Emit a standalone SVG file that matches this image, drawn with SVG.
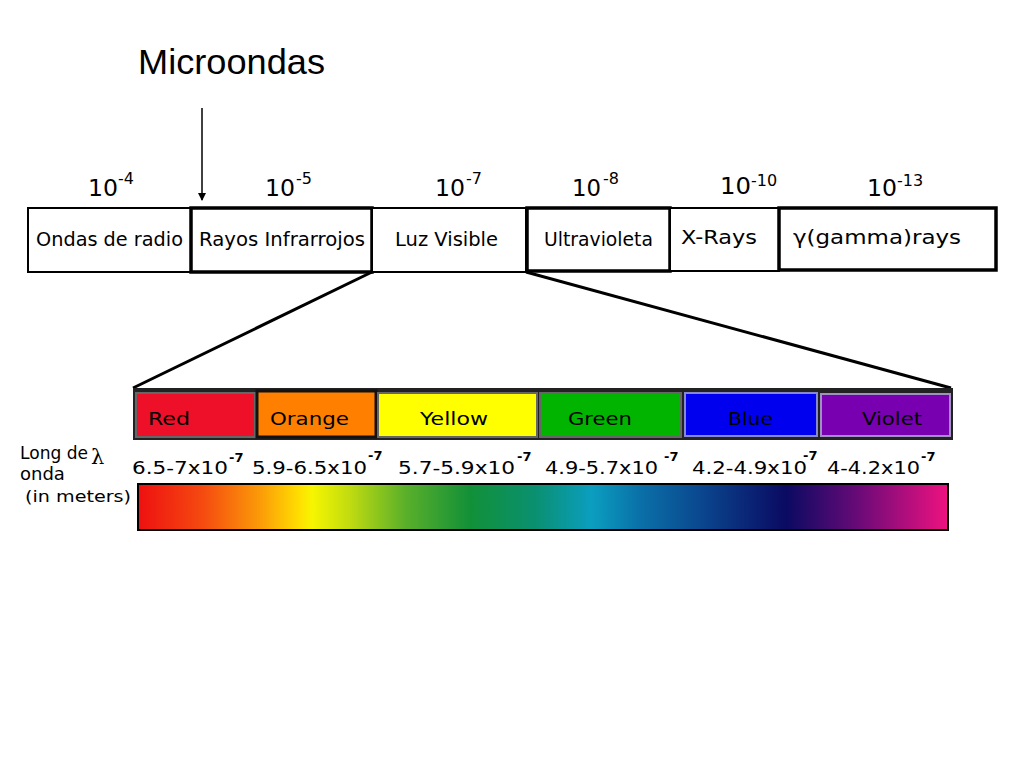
<svg xmlns="http://www.w3.org/2000/svg" width="1024" height="768" viewBox="0 0 1024 768">
<defs>
<style>
.lbl{font-family:"DejaVu Sans","Liberation Sans",sans-serif;font-size:19px;fill:#000}
.exp{font-family:"DejaVu Sans","Liberation Sans",sans-serif;font-size:23px;fill:#000}
.sup{font-family:"DejaVu Sans","Liberation Sans",sans-serif;font-size:16px;fill:#000}
.col{font-family:"DejaVu Sans","Liberation Sans",sans-serif;font-size:18px;fill:#000}
.wl{font-family:"DejaVu Sans","Liberation Sans",sans-serif;font-size:17px;fill:#000}
.wls{font-family:"DejaVu Sans","Liberation Sans",sans-serif;font-size:13px;font-weight:bold;fill:#000}
.box{fill:#fff;stroke:#000;stroke-width:2}
.thick{fill:#fff;stroke:#000;stroke-width:3.5}
.cbox{stroke:#666;stroke-width:2}
</style>
<marker id="arr" markerWidth="8" markerHeight="10" refX="7" refY="5" orient="auto" markerUnits="userSpaceOnUse">
<path d="M0,1 L8,5 L0,9 Z" fill="#000"/>
</marker>
<linearGradient id="spec" x1="0" y1="0" x2="1" y2="0">
<stop offset="0" stop-color="#ee1010"/>
<stop offset="0.08" stop-color="#f54a10"/>
<stop offset="0.15" stop-color="#fb9a08"/>
<stop offset="0.2" stop-color="#ffe000"/>
<stop offset="0.215" stop-color="#f6f600"/>
<stop offset="0.26" stop-color="#c2dc10"/>
<stop offset="0.33" stop-color="#5ab02a"/>
<stop offset="0.41" stop-color="#129038"/>
<stop offset="0.49" stop-color="#0a9070"/>
<stop offset="0.56" stop-color="#0b9ec0"/>
<stop offset="0.62" stop-color="#0a70a8"/>
<stop offset="0.69" stop-color="#0a4a90"/>
<stop offset="0.8" stop-color="#0a0a62"/>
<stop offset="0.89" stop-color="#6a0a78"/>
<stop offset="1" stop-color="#ee1280"/>
</linearGradient>
</defs>
<rect width="1024" height="768" fill="#fff"/>

<text x="138" y="74" font-family="Liberation Sans, Arial, sans-serif" font-size="35" fill="#000" textLength="187" lengthAdjust="spacingAndGlyphs">Microondas</text>

<g id="connectors" stroke="#000" fill="none">
<line x1="202" y1="108" x2="202" y2="200" stroke-width="1.5" marker-end="url(#arr)"/>
<line x1="372" y1="272" x2="133" y2="388" stroke-width="3"/>
<line x1="526" y1="272" x2="951" y2="388" stroke-width="3"/>
</g>

<g id="exponents">
<text class="exp" x="88" y="196" textLength="30" lengthAdjust="spacingAndGlyphs">10</text><text class="sup" x="118" y="184">-4</text>
<text class="exp" x="265" y="196" textLength="30" lengthAdjust="spacingAndGlyphs">10</text><text class="sup" x="296" y="184">-5</text>
<text class="exp" x="435" y="196" textLength="30" lengthAdjust="spacingAndGlyphs">10</text><text class="sup" x="466" y="184">-7</text>
<text class="exp" x="572" y="196" textLength="29" lengthAdjust="spacingAndGlyphs">10</text><text class="sup" x="603" y="184">-8</text>
<text class="exp" x="720" y="194" textLength="31" lengthAdjust="spacingAndGlyphs">10</text><text class="sup" x="751" y="186">-10</text>
<text class="exp" x="867" y="196" textLength="30" lengthAdjust="spacingAndGlyphs">10</text><text class="sup" x="897" y="186">-13</text>
</g>

<g id="radio"><rect class="box" x="28" y="208" width="163" height="64"/><text class="lbl" x="36" y="246" textLength="147" lengthAdjust="spacingAndGlyphs">Ondas de radio</text></g>
<g id="infrarrojos"><rect class="thick" x="191" y="208" width="181" height="64"/><text class="lbl" x="199" y="246" textLength="166" lengthAdjust="spacingAndGlyphs">Rayos Infrarrojos</text></g>
<g id="visible"><rect class="box" x="372" y="208" width="154" height="64"/><text class="lbl" x="395" y="246" textLength="103" lengthAdjust="spacingAndGlyphs">Luz Visible</text></g>
<g id="ultravioleta"><rect class="thick" x="527" y="208" width="143" height="63"/><text class="lbl" x="544" y="246" textLength="109" lengthAdjust="spacingAndGlyphs">Ultravioleta</text></g>
<g id="xrays"><rect class="box" x="670" y="208" width="109" height="63"/><text class="lbl" x="681" y="244" textLength="76" lengthAdjust="spacingAndGlyphs">X-Rays</text></g>
<g id="gamma"><rect class="thick" x="779" y="208" width="217" height="62"/><text class="lbl" x="793" y="244" textLength="168" lengthAdjust="spacingAndGlyphs">γ(gamma)rays</text></g>

<rect x="133" y="388" width="820" height="52" fill="#222"/>
<g id="red"><rect class="cbox" x="136" y="393" width="119" height="44" fill="#ee1028"/><text class="col" x="148" y="425" textLength="42" lengthAdjust="spacingAndGlyphs">Red</text></g>
<g id="orange"><rect x="257" y="391" width="119" height="46" fill="#ff8000" stroke="#111" stroke-width="3"/><text class="col" x="270" y="425" textLength="79" lengthAdjust="spacingAndGlyphs">Orange</text></g>
<g id="yellow"><rect class="cbox" x="378" y="393" width="159" height="44" fill="#ffff00"/><text class="col" x="420" y="425" textLength="68" lengthAdjust="spacingAndGlyphs">Yellow</text></g>
<g id="green"><rect class="cbox" x="540" y="393" width="141" height="44" fill="#00b400"/><text class="col" x="568" y="425" textLength="64" lengthAdjust="spacingAndGlyphs">Green</text></g>
<g id="blue"><rect x="685" y="393" width="132" height="43" fill="#0000ee" stroke="#8888cc" stroke-width="2"/><text class="col" x="728" y="425" textLength="45" lengthAdjust="spacingAndGlyphs">Blue</text></g>
<g id="violet"><rect x="821" y="394" width="129" height="42" fill="#7800b0" stroke="#a090c0" stroke-width="2"/><text class="col" x="862" y="425" textLength="60" lengthAdjust="spacingAndGlyphs">Violet</text></g>

<g id="wavelengths">
<text class="wl" x="132" y="474" textLength="96" lengthAdjust="spacingAndGlyphs">6.5-7x10</text><text class="wls" x="229" y="462">-7</text>
<text class="wl" x="252" y="474" textLength="115" lengthAdjust="spacingAndGlyphs">5.9-6.5x10</text><text class="wls" x="368" y="460">-7</text>
<text class="wl" x="398" y="474" textLength="117" lengthAdjust="spacingAndGlyphs">5.7-5.9x10</text><text class="wls" x="517" y="461">-7</text>
<text class="wl" x="545" y="474" textLength="113" lengthAdjust="spacingAndGlyphs">4.9-5.7x10</text><text class="wls" x="664" y="461">-7</text>
<text class="wl" x="692" y="474" textLength="115" lengthAdjust="spacingAndGlyphs">4.2-4.9x10</text><text class="wls" x="803" y="460">-7</text>
<text class="wl" x="827" y="474" textLength="93" lengthAdjust="spacingAndGlyphs">4-4.2x10</text><text class="wls" x="921" y="461">-7</text>
</g>

<g id="legend">
<text x="20" y="459" font-family="DejaVu Sans, sans-serif" font-size="18" fill="#000" textLength="68" lengthAdjust="spacingAndGlyphs">Long de</text>
<text x="91" y="464" font-family="DejaVu Serif, serif" font-size="21" fill="#000">λ</text>
<text x="20" y="480" font-family="DejaVu Sans, sans-serif" font-size="18" fill="#000">onda</text>
<text x="25" y="502" font-family="DejaVu Sans, sans-serif" font-size="16" fill="#000" textLength="106" lengthAdjust="spacingAndGlyphs">(in meters)</text>
</g>

<rect x="138" y="484" width="810" height="46" fill="url(#spec)" stroke="#000" stroke-width="2"/>
</svg>
